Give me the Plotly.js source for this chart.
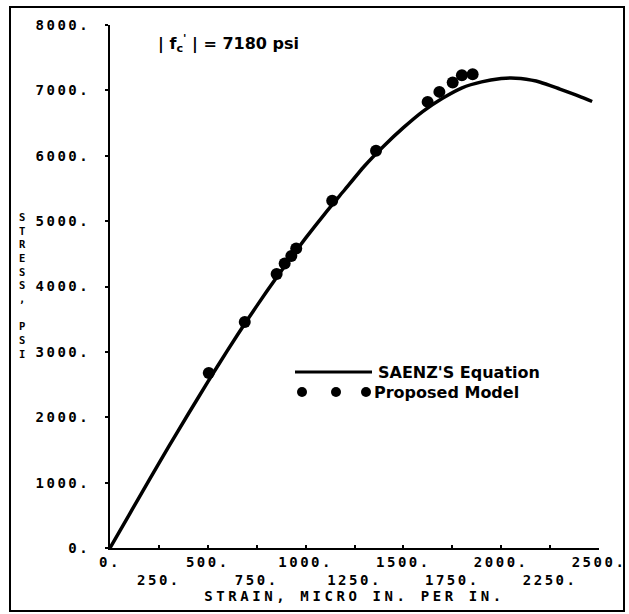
<!DOCTYPE html>
<html>
<head>
<meta charset="utf-8">
<script src="https://cdn.plot.ly/plotly-3.0.1.min.js"></script>
<style>
  html, body { margin: 0; padding: 0; background: #fff; overflow: hidden; }
  #wrap { position: relative; width: 629px; height: 614px; }
  #chart { width: 629px; height: 614px; }
  #frame { position: absolute; left: 9px; top: 6px; width: 612px; height: 602px;
           border: 2px solid #000; pointer-events: none; }
</style>
</head>
<body>
<div id="wrap"><div id="chart"></div><div id="frame"></div></div>
<script>
// ---- data ----
const saenzStrain = [0, 100, 200, 300, 400, 500, 600, 700, 800, 900, 1000, 1100, 1200, 1300, 1400, 1500, 1600, 1700, 1800, 1900, 2000, 2050, 2100, 2200, 2300, 2400, 2465];
const saenzStress = [0, 520, 1040, 1550, 2050, 2540, 3020, 3480, 3920, 4340, 4740, 5120, 5480, 5840, 6150, 6430, 6680, 6880, 7040, 7130, 7180, 7190, 7180, 7125, 7020, 6910, 6830];

const modelStrain = [505, 689, 852, 893, 927, 952, 1136, 1360, 1624, 1684, 1752, 1799, 1854];
const modelStress = [2676, 3456, 4190, 4353, 4465, 4582, 5310, 6075, 6824, 6977, 7120, 7232, 7248];

const xTickVals = [0, 250, 500, 750, 1000, 1250, 1500, 1750, 2000, 2250, 2500];
const xTickLabels = ["0.", "250.", "500.", "750.", "1000.", "1250.", "1500.", "1750.", "2000.", "2250.", "2500."];
const yTickVals = [0, 1000, 2000, 3000, 4000, 5000, 6000, 7000, 8000];
const yTickLabels = ["0.", "1000.", "2000.", "3000.", "4000.", "5000.", "6000.", "7000.", "8000."];

const xTitle = "STRAIN, MICRO IN. PER IN.";
const yTitle = "STRESS, PSI";
const noteText = "| f<sub>c</sub><sup>'</sup> | = 7180 psi";
const legendNames = ["SAENZ'S Equation", "Proposed Model"];

// ---- layout helpers ----
const W = 629, H = 614;
const M = { l: 110, r: 30, t: 25, b: 66 };
const PW = W - M.l - M.r, PH = H - M.t - M.b;
const px = x => (x - M.l) / PW;         // pixel -> paper x
const py = y => (H - M.b - y) / PH;     // pixel -> paper y

const monoFont = { family: "DejaVu Sans Mono", size: 14, color: "#000", weight: "bold" };
const stackFont = { family: "DejaVu Sans Mono", size: 10.5, color: "#000", weight: "bold" };
const sansFont = { family: "DejaVu Sans", size: 16, color: "#000", weight: "bold" };

// alternate rows for x tick labels
const xTickText = xTickLabels.map((t, i) => (i % 2 === 1 ? "<br>" + t : t));
// stacked (upright) y title
const yTitleStacked = yTitle.split("").map(c => (c === " " ? "&nbsp;" : c)).join("<br>");

const traces = [
  {
    x: saenzStrain, y: saenzStress, type: "scatter", mode: "lines",
    name: legendNames[0], line: { color: "#000", width: 3.5, shape: "spline", smoothing: 0.6 },
    showlegend: false, hoverinfo: "skip"
  },
  {
    x: modelStrain, y: modelStress, type: "scatter", mode: "markers",
    name: legendNames[1], marker: { color: "#000", size: 12 },
    showlegend: false, cliponaxis: false
  }
];

const annotations = [
  {
    text: yTitleStacked, xref: "paper", yref: "paper", x: px(22), y: py(285),
    xanchor: "center", yanchor: "middle", align: "center", showarrow: false,
    font: stackFont
  },
  {
    text: noteText, xref: "paper", yref: "paper", x: px(156), y: py(43),
    xanchor: "left", yanchor: "middle", showarrow: false, font: sansFont
  },
  {
    text: legendNames[0], xref: "paper", yref: "paper", x: px(376), y: py(372),
    xanchor: "left", yanchor: "middle", showarrow: false, font: sansFont
  },
  {
    text: legendNames[1], xref: "paper", yref: "paper", x: px(372), y: py(392),
    xanchor: "left", yanchor: "middle", showarrow: false, font: sansFont
  }
];

const shapes = [
  // legend line sample
  { type: "line", xref: "paper", yref: "paper", x0: px(295), x1: px(372), y0: py(372), y1: py(372),
    line: { color: "#000", width: 3 } }
];
[302, 336, 366].forEach(cx => {
  shapes.push({
    type: "circle", xref: "paper", yref: "paper", xsizemode: "pixel", ysizemode: "pixel",
    xanchor: px(cx), yanchor: py(392), x0: -5, x1: 5, y0: -5, y1: 5,
    fillcolor: "#000", line: { color: "#000", width: 0 }
  });
});

const layout = {
  width: W, height: H,
  margin: M,
  paper_bgcolor: "#fff", plot_bgcolor: "#fff",
  showlegend: false,
  font: monoFont,
  xaxis: {
    range: [0, 2500], tickmode: "array", tickvals: xTickVals, ticktext: xTickText,
    showgrid: false, zeroline: false, showline: true, linecolor: "#000", linewidth: 2,
    ticks: "inside", ticklen: 3, tickwidth: 2, tickcolor: "#000",
    tickfont: monoFont, ticklabelstandoff: 0, fixedrange: true,
    title: { text: xTitle, font: monoFont, standoff: 2 }
  },
  yaxis: {
    range: [0, 8000], tickmode: "array", tickvals: yTickVals, ticktext: yTickLabels,
    showgrid: false, zeroline: false, showline: true, linecolor: "#000", linewidth: 2,
    ticks: "outside", ticklen: 3, tickwidth: 2, tickcolor: "#000",
    tickfont: monoFont, ticklabelstandoff: 12, fixedrange: true
  },
  annotations: annotations,
  shapes: shapes
};

Plotly.newPlot("chart", traces, layout, { displayModeBar: false, staticPlot: true }).then(() => {
  document.querySelectorAll(".xtick text, .ytick text").forEach(el => el.setAttribute("letter-spacing", "2.5px"));
  document.querySelectorAll(".g-xtitle text").forEach(el => el.setAttribute("letter-spacing", "3.6px"));
});
</script>
</body>
</html>
